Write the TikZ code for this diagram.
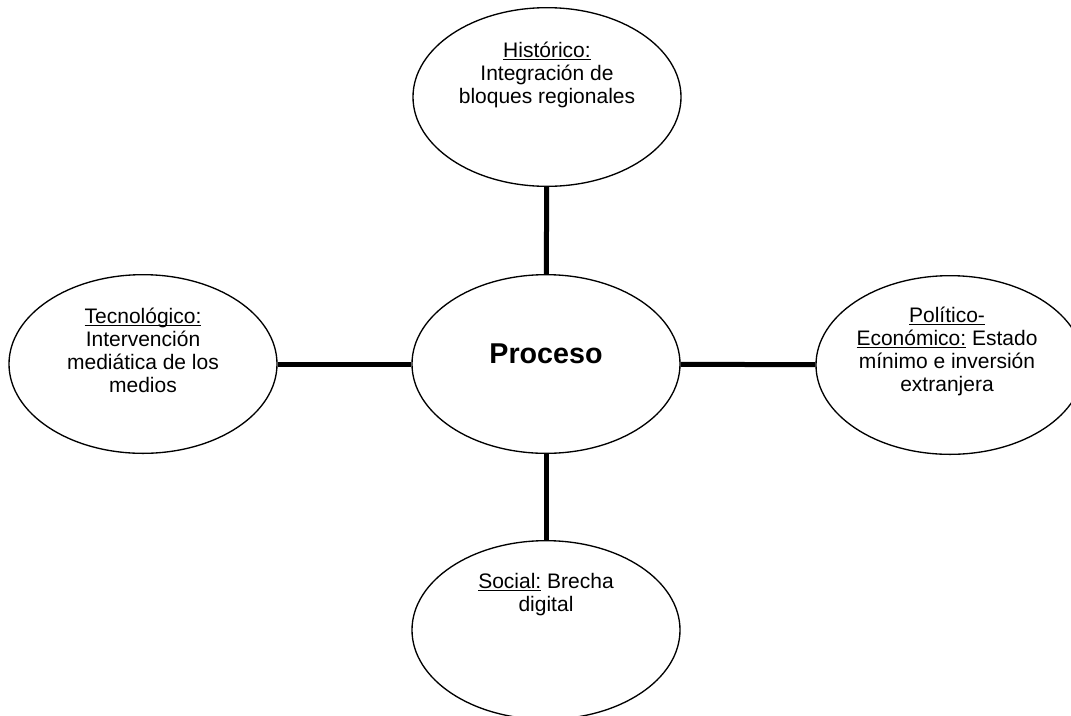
\documentclass[tikz,border=0pt]{standalone}
\usepackage{fontspec}
\setmainfont{Liberation Sans}
\usetikzlibrary{shapes.geometric,positioning}
\newcommand{\undl}[1]{\underline{\smash{#1}}}
\tikzset{
  campo/.style={ellipse,draw,line width=1pt,minimum width=201pt,
                minimum height=134pt,inner sep=0pt},
  rotulo/.style={align=center,inner sep=0pt,anchor=north,
                 font=\fontsize{15.75}{17.25}\selectfont},
  enlace/.style={line width=3.75pt},
}

\begin{document}
\begin{tikzpicture}[x=0.75pt,y=-0.75pt]
  \useasboundingbox (0,0) rectangle (1071,715) ;
%
  \node [campo] (proc) at (546,364) {} ;
  \node [campo] (hist) at (547,97)  {} ;
  \node [campo] (tecn) at (143,364) {} ;
  \node [campo] (poli) at (950,365) {} ;
  \node [campo] (soci) at (546,630) {} ;
%
  % smashed first lines: north sits on the first baseline
  \node [rotulo,anchor=base,font=\bfseries\fontsize{21.5}{26}\selectfont]
        (proct) at (546,363) {Proceso} ;
  \node [rotulo] (histt) at (547,57)
        {\undl{Histórico:}\\Integración de\\bloques regionales} ;
  \node [rotulo] (tecnt) at (143,323)
        {\undl{Tecnológico:}\\Intervención\\mediática de los\\medios} ;
  \node [rotulo] (polit) at (947,322)
        {\undl{Político-}\\\undl{Económico:} Estado\\mínimo e inversión\\extranjera} ;
  \node [rotulo] (socit) at (546,573)
        {\undl{Social:} Brecha\\digital} ;
%
  \draw [enlace] (hist) -- (proc) ;
  \draw [enlace] (tecn) -- (proc) ;
  \draw [enlace] (proc) -- (poli) ;
  \draw [enlace] (proc) -- (soci) ;
%
\end{tikzpicture}
\end{document}
